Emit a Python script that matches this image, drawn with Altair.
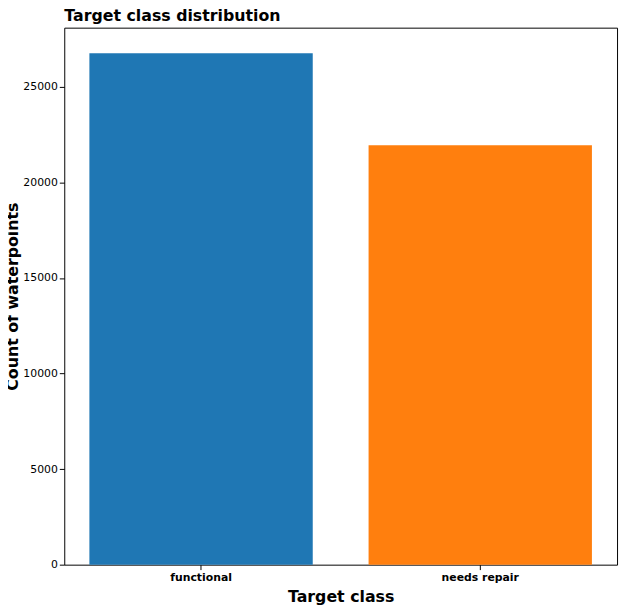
import altair as alt
import pandas as pd

classes = ["functional", "needs repair"]
counts = [26760, 21950]
colors = ["#1f77b4", "#ff7f0e"]

df = pd.DataFrame({"cls": classes, "count": counts})

chart = alt.Chart(df).mark_bar().encode(
    x=alt.X("cls:N", sort=classes,
            scale=alt.Scale(paddingInner=0.2, paddingOuter=0.09),
            axis=alt.Axis(title="Target class", labelAngle=0, labelFontWeight="bold",
                          labelFontSize=11, labelColor="black", titleFontSize=16,
                          titleFontWeight="bold", titleColor="black", tickColor="black",
                          domain=False, titlePadding=6)),
    y=alt.Y("count:Q", scale=alt.Scale(domain=[0, 28100], nice=False),
            axis=alt.Axis(title="Count of waterpoints", values=[0, 5000, 10000, 15000, 20000, 25000],
                          format="d", grid=False, labelFontSize=11, labelColor="black",
                          titleFontSize=16, titleFontWeight="bold", titleColor="black",
                          tickColor="black", domain=False, titlePadding=2)),
    color=alt.Color("cls:N", scale=alt.Scale(domain=classes, range=colors), legend=None),
).properties(
    width=560, height=544,
    title=alt.TitleParams("Target class distribution", anchor="start", frame="group",
                          fontSize=16, fontWeight="bold", color="black", offset=4),
    autosize=alt.AutoSizeParams(type="none"),
    padding={"left": 57, "top": 16, "right": 4, "bottom": 43},
).configure(font="DejaVu Sans").configure_view(stroke="black", strokeWidth=1)

chart.save("out.html", embed_options={"renderer": "svg", "actions": False})
